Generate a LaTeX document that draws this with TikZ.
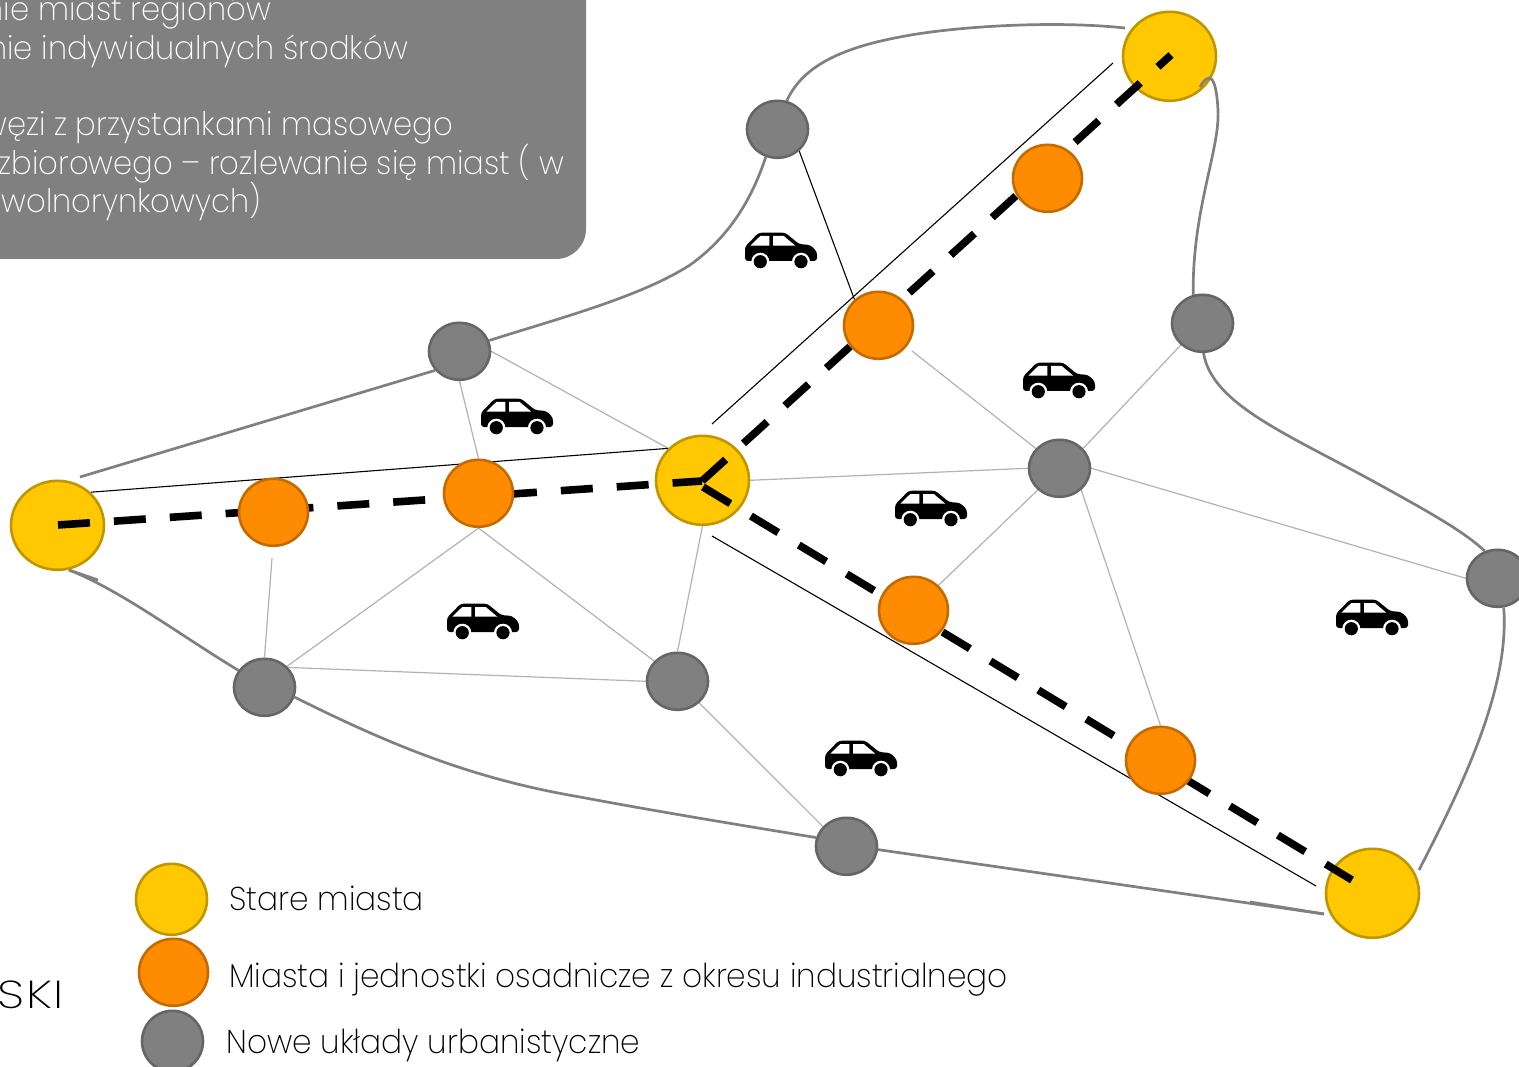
\documentclass[tikz,border=0pt]{standalone}
\usepackage{fontspec}
\setmainfont{Poppins}[UprightFont=* ExtraLight,FakeStretch=0.945]
\newfontfamily\skifont{Poppins}[UprightFont=* ExtraLight,FakeStretch=1.25,LetterSpace=4]
\usetikzlibrary{shapes.geometric}
\pgfdeclarelayer{lines}\pgfdeclarelayer{yel}\pgfdeclarelayer{dashes}
\pgfsetlayers{lines,yel,dashes,main}
\definecolor{cgray}{HTML}{808080}
\definecolor{cyel}{HTML}{FFC800}
\definecolor{cyeld}{HTML}{BF9600}
\definecolor{cor}{HTML}{FF8C00}
\definecolor{cord}{HTML}{C46A00}
\definecolor{cgrd}{HTML}{666666}
\tikzset{
 city/.style={ellipse,draw,inner sep=0pt,line width=2.6pt,xshift=0.5pt,yshift=-0.3pt},
 oldcity/.style={city,fill=cyel,draw=cyeld,minimum width=93pt,minimum height=89pt},
 indcity/.style={city,fill=cor,draw=cord,minimum width=69pt,minimum height=67pt},
 newcity/.style={city,fill=cgray,draw=cgrd,minimum width=61pt,minimum height=57pt},
 thinlink/.style={draw=black!30,line width=1.2pt},
 blacklink/.style={draw=black,line width=1.1pt},
 road/.style={draw=cgray,line width=2.7pt},
 rail/.style={draw=black,line width=7.6pt,dash pattern=on 32pt off 24pt},
 paneltext/.style={anchor=base east,text=white,font=\fontsize{32.4}{33}\selectfont,inner sep=0pt},
 legendtext/.style={anchor=base west,text=black,font=\fontsize{33}{33}\selectfont,inner sep=0pt},
 car/.pic={
  \fill[black,rounded corners=3pt] (-36,11)--(-36,-3.3)--(-22.3,-17.3)--(4.3,-17.3)--(18,-6)--(29.3,-5)--(36,1.7)--(36,11)--cycle;
  \fill[white] (-30.7,-4.3)--(-20.7,-14)--(-11.7,-14)--(-11.7,-4.3)--cycle;
  \fill[white] (-8,-14)--(2.7,-14)--(14.3,-4.3)--(-8,-4.3)--cycle;
  \fill[white] (-20.7,11.7) circle[radius=9] (20,11.7) circle[radius=9];
  \fill[black] (-20.7,11.7) circle[radius=6.6] (20,11.7) circle[radius=6.6];
 }
}
\begin{document}
\begin{tikzpicture}[x=1pt,y=-1pt]
\useasboundingbox (0,0) rectangle (1519,1067);
\clip (0,0) rectangle (1519,1067);
% panel
\fill[cgray,rounded corners=30pt] (-60,-60) rectangle (586,259);
\node[paneltext] (t1) at (271,21) {nie miast regionów};
\node[paneltext] (t2) at (408,60) {nie indywidualnych środków};
\node[paneltext] (t3) at (453,136) {węzi z przystankami masowego};
\node[paneltext] (t4) at (564,175) {zbiorowego – rozlewanie się miast ( w};
\node[paneltext] (t5) at (261,213) {wolnorynkowych)};
\node[anchor=base east,inner sep=0pt,font=\skifont\fontsize{39}{39}\selectfont] (t6) at (64,1008) {SKI};
% nodes
\begin{pgfonlayer}{yel}
\node[oldcity] (Y1) at (57,525) {};
\node[oldcity] (Y2) at (702,480) {};
\node[oldcity] (Y3) at (1169,56) {};
\node[oldcity] (Y4) at (1372,893) {};
\end{pgfonlayer}
\node[indcity] (O1) at (273,512) {};
\node[indcity] (O2) at (478,493) {};
\node[indcity] (O3) at (878,325) {};
\node[indcity] (O4) at (1047,178) {};
\node[indcity] (O5) at (913,610) {};
\node[indcity] (O6) at (1160,760) {};
\node[newcity] (G1) at (777,129) {};
\node[newcity] (G2) at (459,351) {};
\node[newcity] (G3) at (1202,323) {};
\node[newcity] (G4) at (1059,468) {};
\node[newcity] (G5) at (1497,578) {};
\node[newcity] (G6) at (264,687) {};
\node[newcity] (G7) at (677,681) {};
\node[newcity] (G8) at (846,846) {};
% free ends
\coordinate (a1) at (1113,63);
\coordinate (a2) at (712,424);
\coordinate (b1) at (712,536);
\coordinate (b2) at (1316,886);
\coordinate (c1) at (272,558);
\coordinate (c2) at (912,351);
\coordinate (d1) at (80,477);
\coordinate (d2) at (69,570);
\coordinate (d3) at (98,580);
\coordinate (e1) at (1125,28);
\coordinate (e2) at (1200,87);
\coordinate (f1) at (1419,870);
\coordinate (f2) at (1324,914);
\coordinate (f3) at (1250,902);
\coordinate (r1) at (58,525);
\coordinate (r2) at (702,481);
\coordinate (r3) at (703,487);
\coordinate (r4) at (1352,880);
\coordinate (r5) at (1171,55);
\begin{pgfonlayer}{lines}
\draw[thinlink] (G2.south) -- (O2.north);
\draw[thinlink] (G2.east) -- (Y2.137);
\draw[thinlink] (c1) -- (G6.north);
\draw[thinlink] (O2.south) -- (G6.43);
\draw[thinlink] (O2.south) -- (G7.139);
\draw[thinlink] (G6.40) -- (G7.west);
\draw[thinlink] (Y2.south) -- (G7.north);
\draw[thinlink] (Y2.east) -- (G4.west);
\draw[thinlink] (c2) -- (G4.140);
\draw[thinlink] (G4.40) -- (G3.-135);
\draw[thinlink] (G4.225) -- (O5.45);
\draw[thinlink] (G4.-45) -- (O6.north);
\draw[thinlink] (G4.east) -- (G5.west);
\draw[thinlink] (G7.-45) -- (G8.140);
\draw[blacklink] (G1.-45) -- (O3.133);
\draw[blacklink] (Y1.45) -- (Y2.137);
\draw[blacklink] (a1) -- (a2);
\draw[blacklink] (b1) -- (b2);
\draw[road] (G1.72) .. controls (800,72) and (830,50) .. (900,37) .. controls (950,27) and (1050,20) .. (e1);
\draw[road] (G1.247) .. controls (750,205) and (725,240) .. (690,265) .. controls (640,297) and (560,318) .. (G2.20);
\draw[road] (G2.218) -- (d1);
\draw[road] (G3.-88) .. controls (1212,405) and (1290,435) .. (1380,485) .. controls (1440,518) and (1465,533) .. (G5.115);
\draw[road] (G5.-78) .. controls (1510,690) and (1460,790) .. (f1);
\draw[road] (d2) .. controls (120,590) and (180,635) .. (G6.147);
\draw[road] (d2) -- (d3);
\draw[road] (G6.-18) .. controls (400,750) and (480,780) .. (580,797) .. controls (660,812) and (740,825) .. (G8.164);
\draw[road] (G8.-6) -- (f2);
\draw[road] (f3) -- (f2);
\end{pgfonlayer}
\draw[road] (e2) .. controls (1208,73) and (1216,72) .. (1218,110) .. controls (1220,150) and (1192,210) .. (G3.108);
\begin{pgfonlayer}{dashes}
\draw[rail] (r1) -- (r2);
\draw[rail] (r2) -- (r5);
\draw[rail] (r3) -- (r4);
\end{pgfonlayer}
% cars
\pic at (781,250) {car};
\pic at (517,416) {car};
\pic at (1059,380) {car};
\pic at (931,508) {car};
\pic at (483,621) {car};
\pic at (1372,617) {car};
\pic at (861,758) {car};
% legend
\node[oldcity,minimum width=71pt,minimum height=71pt] (L1) at (171,899) {};
\node[indcity] (L2) at (173,972) {};
\node[newcity,minimum width=61pt,minimum height=61pt] (L3) at (172,1041) {};
\node[legendtext] (T1) at (229,910) {Stare miasta};
\node[legendtext] (T2) at (229,987) {Miasta i jednostki osadnicze z okresu industrialnego};
\node[legendtext] (T3) at (226,1053) {Nowe układy urbanistyczne};
\end{tikzpicture}
\end{document}
